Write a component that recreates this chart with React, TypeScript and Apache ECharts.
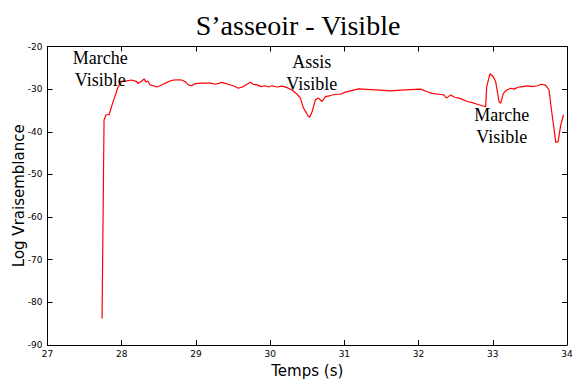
import React, { useEffect, useRef } from "react";
import * as echarts from "echarts";

const chartTitle = "S\u2019asseoir - Visible";
const xAxisName = "Temps (s)";
const yAxisName = "Log Vraisemblance";

const times = [
  27.735, 27.762, 27.789, 27.83, 27.87, 27.951, 28.005, 28.046, 28.136, 28.204,
  28.221, 28.271, 28.302, 28.325, 28.352, 28.383, 28.424, 28.474, 28.518, 28.586,
  28.653, 28.694, 28.761, 28.815, 28.856, 28.896, 28.946, 28.991, 29.081, 29.126,
  29.193, 29.261, 29.351, 29.436, 29.503, 29.571, 29.638, 29.688, 29.733, 29.773,
  29.827, 29.877, 29.935, 29.976, 30.026, 30.093, 30.161, 30.228, 30.296, 30.363,
  30.408, 30.448, 30.516, 30.533, 30.565, 30.61, 30.65, 30.7, 30.745, 30.812,
  30.88, 30.947, 31.015, 31.082, 31.19, 31.352, 31.487, 31.622, 31.757, 31.892,
  32.027, 32.117, 32.185, 32.274, 32.341, 32.378, 32.432, 32.486, 32.544, 32.59,
  32.657, 32.725, 32.792, 32.86, 32.904, 32.918, 32.962, 33.008, 33.039, 33.084,
  33.107, 33.143, 33.188, 33.242, 33.286, 33.34, 33.4, 33.467, 33.534, 33.602,
  33.656, 33.714, 33.758, 33.791, 33.849, 33.88, 33.916, 33.953,
];

const logLik = [
  -83.8, -37.2, -36.0, -36.0, -33.7, -29.5, -28.1, -28.1, -27.85, -28.25,
  -28.7, -28.1, -27.6, -28.3, -28.1, -29.0, -29.2, -29.5, -29.2, -28.6,
  -28.1, -27.9, -27.8, -27.9, -28.25, -29.0, -29.2, -28.7, -28.6, -28.6,
  -28.6, -28.85, -28.4, -28.85, -29.2, -29.8, -29.4, -28.85, -28.4, -28.85,
  -29.0, -29.4, -29.2, -29.5, -29.2, -29.5, -29.3, -29.65, -30.2, -31.2,
  -32.1, -34.4, -36.4, -36.6, -35.3, -32.5, -32.1, -32.9, -31.75, -31.5,
  -31.2, -31.2, -30.7, -30.4, -29.95, -30.1, -30.25, -30.4, -30.25, -30.1,
  -30.0, -30.6, -31.0, -31.2, -31.35, -32.1, -31.35, -31.9, -32.1, -32.4,
  -32.9, -33.15, -33.55, -33.9, -34.1, -29.4, -26.4, -27.1, -28.25, -32.9,
  -33.3, -31.0, -30.2, -29.8, -30.0, -29.55, -29.4, -29.25, -29.4, -29.2,
  -28.85, -29.1, -30.2, -34.9, -42.5, -42.3, -38.4, -36.0,
];

const annotationTexts = ["Marche\nVisible", "Assis\nVisible", "Marche\nVisible"];
// anchor (data coords): horizontal centre and top of the text block
const annotationT = [27.71, 30.56, 33.12];
const annotationV = [-20.0, -21.0, -33.6];

const xMin = 27, xMax = 34, xStep = 1;
const yMin = -90, yMax = -20, yStep = 10;

export default function App() {
  const ref = useRef<HTMLDivElement>(null);
  useEffect(() => {
    if (!ref.current) return;
    const chart = echarts.init(ref.current, null, { renderer: "svg" });
    const sans = "DejaVu Sans";
    const serif = "Liberation Serif";
    const axisLine = { show: true, onZero: false, lineStyle: { color: "#000", width: 1 } };
    const tick = { show: true, inside: true, length: 5, lineStyle: { color: "#000", width: 1 } };
    const option: any = {
      animation: false,
      backgroundColor: "#fff",
      title: {
        text: chartTitle,
        left: 293,
        top: 6,
        textAlign: "center",
        textStyle: { fontFamily: serif, fontSize: 28, fontWeight: "normal", color: "#000" },
      },
      grid: {
        left: 47.5, right: 8, top: 46.5, bottom: 40,
        containLabel: false, outerBoundsMode: "none",
      },
      xAxis: [
        {
          type: "value", min: xMin, max: xMax, interval: xStep,
          axisLine, axisTick: tick, splitLine: { show: false },
          axisLabel: { color: "#000", fontSize: 9, fontFamily: sans, margin: 4 },
          name: xAxisName, nameLocation: "middle", nameGap: 26, nameMoveOverlap: false,
          nameTextStyle: { color: "#000", fontSize: 15, fontFamily: sans, verticalAlign: "middle" },
        },
        {
          type: "value", position: "top", min: xMin, max: xMax, interval: xStep,
          axisLine, axisTick: tick, splitLine: { show: false }, axisLabel: { show: false },
        },
      ],
      yAxis: [
        {
          type: "value", min: yMin, max: yMax, interval: yStep,
          axisLine, axisTick: tick, splitLine: { show: false },
          axisLabel: { color: "#000", fontSize: 9, fontFamily: sans, margin: 5 },
          name: yAxisName, nameLocation: "middle", nameGap: 29, nameMoveOverlap: false,
          nameTextStyle: { color: "#000", fontSize: 15, fontFamily: sans, verticalAlign: "middle" },
        },
        {
          type: "value", position: "right", min: yMin, max: yMax, interval: yStep,
          axisLine, axisTick: tick, splitLine: { show: false }, axisLabel: { show: false },
        },
      ],
      series: [
        {
          type: "line",
          xAxisIndex: 0,
          yAxisIndex: 0,
          data: times.map((t, i) => [t, logLik[i]]),
          showSymbol: false,
          symbol: "none",
          lineStyle: { color: "#ff0000", width: 1.2 },
          z: 3,
        },
      ],
    };
    chart.setOption(option);
    const graphics = annotationTexts.map((txt, i) => {
      const p = chart.convertToPixel({ xAxisIndex: 0, yAxisIndex: 0 }, [annotationT[i], annotationV[i]]);
      return {
        type: "text",
        x: p[0],
        y: p[1],
        z: 10,
        style: {
          text: txt,
          fontFamily: serif,
          fontSize: 18,
          lineHeight: 22,
          fill: "#000",
          align: "center",
          verticalAlign: "top",
        },
      };
    });
    chart.setOption({ graphic: graphics });
    return () => chart.dispose();
  }, []);
  return (
    <div
      ref={ref}
      style={{ position: "fixed", left: 0, top: 0, width: 575, height: 385 }}
    />
  );
}
